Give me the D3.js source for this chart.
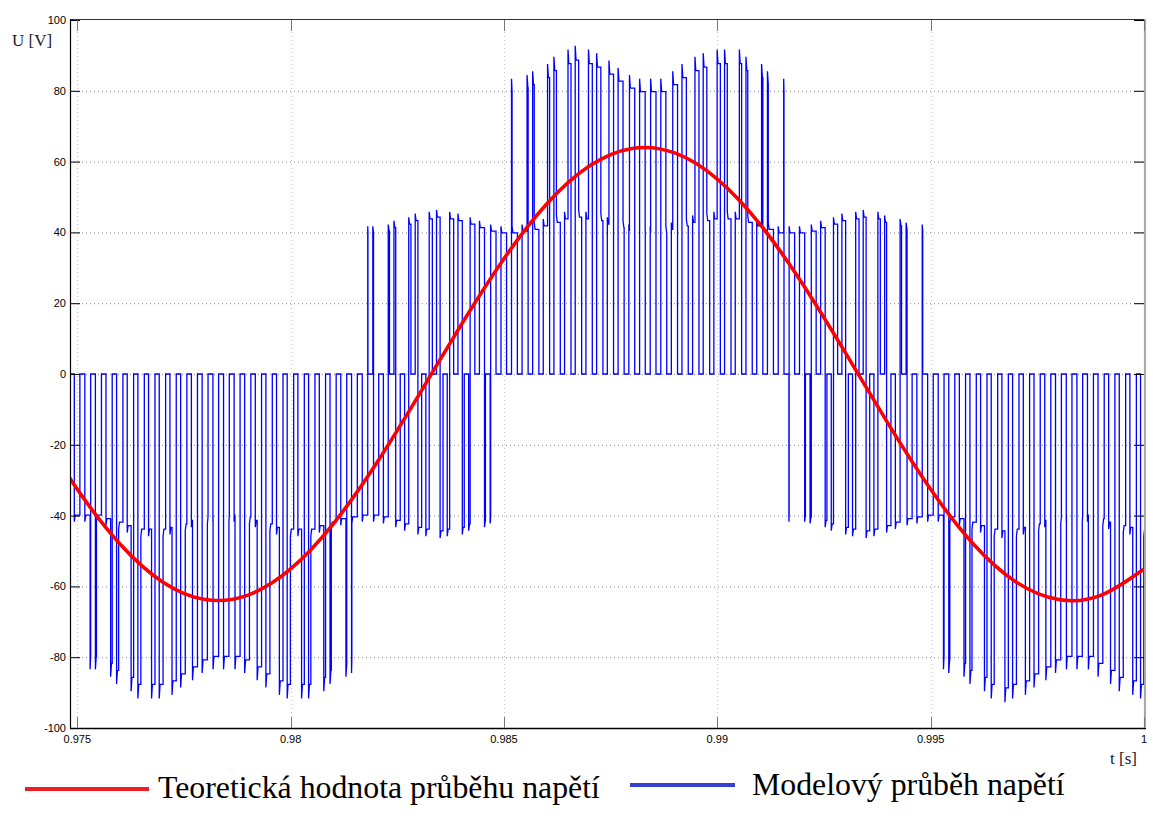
<!DOCTYPE html>
<html><head><meta charset="utf-8">
<script src="https://cdn.jsdelivr.net/npm/d3@7"></script>
<style>body{margin:0;background:#fff}svg{display:block}</style>
</head><body>
<svg id="c" width="1153" height="829"></svg>
<script>
// ---------- data ----------
const xTicks = [0.975, 0.98, 0.985, 0.99, 0.995, 1];
const xTickLabels = ["0.975", "0.98", "0.985", "0.99", "0.995", "1"];
const yTicks = [-100, -80, -60, -40, -20, 0, 20, 40, 60, 80, 100];

// theoretical voltage (red), time in ms, value in V
const theoryT = [974,975,976,977,978,979,980,981,982,983,984,985,986,987,988,989,990,991,992,993,994,995,996,997,998,999,1000];
const theoryV = [-13.96,-32.58,-48.01,-58.74,-63.72,-62.46,-55.08,-42.32,-25.42,-6.02,13.96,32.58,48.01,58.74,63.72,62.46,55.08,42.32,25.42,6.02,-13.96,-32.58,-48.01,-58.74,-63.72,-62.46,-55.08];

// model PWM voltage (blue): one excursion per carrier half period
// centre time (ms)
const pulseT = [974.995,975.245,975.495,975.745,975.995,976.245,976.495,976.745,976.995,977.245,
977.495,977.745,977.995,978.245,978.495,978.745,978.995,979.245,979.495,979.745,
979.995,980.245,980.495,980.745,980.995,981.245,981.495,981.745,981.995,982.245,
982.495,982.745,982.995,983.245,983.495,983.745,983.995,984.245,984.495,984.745,
984.995,985.245,985.495,985.745,985.995,986.245,986.495,986.745,986.995,987.245,
987.495,987.745,987.995,988.245,988.495,988.745,988.995,989.245,989.495,989.745,
989.995,990.245,990.495,990.745,990.995,991.245,991.495,991.745,991.995,992.245,
992.495,992.745,992.995,993.245,993.495,993.745,993.995,994.245,994.495,994.745,
994.995,995.245,995.495,995.745,995.995,996.245,996.495,996.745,996.995,997.245,
997.495,997.745,997.995,998.245,998.495,998.745,998.995,999.245,999.495,999.745,
999.995];
// dwell (µs): A = level ±U/3 (low/high sectors) or -U/3 (mid sectors)
const durA = [131,124,117,109,101,91,81,71,60,49,38,26,15,3,9,21,33,44,56,67,77,87,96,105,114,121,128,
129,122,114,106,97,88,78,68,57,46,34,22,11,
131,124,117,109,101,91,81,71,60,49,38,26,15,3,9,21,33,44,56,67,77,87,96,105,114,121,128,
5,17,29,41,52,63,74,84,93,102,111,119,126,
131,124,117,109,101,91,81,71,60,49,38,26,15,3,9,21,33,44,56,67,77];
// dwell (µs): B = level ±2U/3 (low/high sectors) or +U/3 (mid sectors)
const durB = [0,13,25,37,48,59,70,80,90,99,108,116,123,130,126,119,112,103,94,85,75,64,53,42,30,19,7,
5,17,29,41,52,63,74,84,93,102,111,119,126,
0,13,25,37,48,59,70,80,90,99,108,116,123,130,126,119,112,103,94,85,75,64,53,42,30,19,7,
129,122,114,106,97,88,78,68,57,46,34,22,11,
0,13,25,37,48,59,70,80,90,99,108,116,123,130,126,119,112,103,94,85,75];
// peak magnitude 2U/3 (V)
const pulsePeak = [81,81,81,83,85,87,89,89,89,88,86,84,82,81,81,81,82,84,86,88,
89,89,89,87,85,83,82,81,81,82,84,86,88,89,90,89,88,86,84,82,
81,81,82,83,85,87,89,90,89,88,86,84,82,81,81,81,83,85,87,88,
89,89,89,87,85,83,81,81,81,82,84,86,88,89,90,89,87,85,83,82,
81,81,82,83,85,87,89,90,89,88,86,84,82,81,81,81,83,85,87,88,89];
const sectorStart = [974.0, 981.63, 984.97, 991.63, 994.97];
const sectorKind = ["low", "mid", "high", "mid", "low"];

const legendLabels = ["Teoretická hodnota průběhu napětí", "Modelový průběh napětí"];

// ---------- layout ----------
const L = 70, R = 1144, T = 20, B = 728;
const svg = d3.select("#c");
const x = d3.scaleLinear().domain([0.975, 1]).range([77.3, 1144]);
const y = d3.scaleLinear().domain([-100, 100]).range([B, T]);
const xm = ms => x(ms / 1000);

// grid
svg.append("g").selectAll("line").data(yTicks.filter(v => v > -100 && v < 100)).join("line")
  .attr("x1", L).attr("x2", R).attr("y1", d => y(d) + 0.5).attr("y2", d => y(d) + 0.5)
  .attr("stroke", "#8a8a8a").attr("stroke-width", 1).attr("stroke-dasharray", "1,3");
svg.append("g").selectAll("line").data(xTicks.filter(v => v < 1)).join("line")
  .attr("x1", d => Math.round(x(d)) + 0.5).attr("x2", d => Math.round(x(d)) + 0.5)
  .attr("y1", T).attr("y2", B)
  .attr("stroke", "#c8c8c8").attr("stroke-width", 1).attr("stroke-dasharray", "1,3");

// clip
svg.append("clipPath").attr("id", "pc").append("rect")
  .attr("x", L).attr("y", T).attr("width", R - L).attr("height", B - T);

// blue PWM waveform
function sectorOf(tm) { let s = 0; sectorStart.forEach((v, i) => { if (tm >= v) s = i; }); return sectorKind[s]; }
const pts = [[974.6, 0]];
pulseT.forEach((c, k) => {
  const kind = sectorOf(c), p = pulsePeak[k], a = durA[k] / 1000, b = durB[k] / 1000;
  const rising = k % 2 === 1;
  let segs;
  if (kind === "low") segs = rising ? [[-p / 2, a], [-p, b]] : [[-p, b], [-p / 2, a]];
  else if (kind === "high") segs = rising ? [[p, b], [p / 2, a]] : [[p / 2, a], [p, b]];
  else segs = rising ? [[-p / 2, a], [p / 2, b]] : [[p / 2, b], [-p / 2, a]];
  let t = c - (a + b) / 2;
  pts.push([t, 0]);
  segs.forEach(([lv, d]) => {
    if (d <= 0) return;
    const dd = Math.min(d, 0.02);
    pts.push([t, lv * 1.03]);
    pts.push([t + dd, lv * 0.985]);
    pts.push([t + d, lv * 0.985]);
    t += d;
  });
  pts.push([t, 0]);
});
pts.push([1000.5, 0]);
svg.append("path").attr("clip-path", "url(#pc)")
  .attr("d", d3.line().x(d => xm(d[0])).y(d => y(d[1]))(pts))
  .attr("fill", "none").attr("stroke", "#0000ff").attr("stroke-width", 1.3);

// red theoretical
svg.append("path").attr("clip-path", "url(#pc)")
  .attr("d", d3.line().curve(d3.curveNatural).x((d, i) => xm(theoryT[i])).y(d => y(d))(theoryV))
  .attr("fill", "none").attr("stroke", "#ff0000").attr("stroke-width", 3.6);

// frame
svg.append("line").attr("x1", L).attr("x2", R + 1).attr("y1", T - 0.5).attr("y2", T - 0.5).attr("stroke", "#333").attr("stroke-width", 1.2);
svg.append("line").attr("x1", L + 0.5).attr("x2", L + 0.5).attr("y1", T - 1).attr("y2", B + 1).attr("stroke", "#000").attr("stroke-width", 1.2);
svg.append("line").attr("x1", L).attr("x2", R + 2).attr("y1", B + 0.5).attr("y2", B + 0.5).attr("stroke", "#000").attr("stroke-width", 1.4);
svg.append("line").attr("x1", R + 1).attr("x2", R + 1).attr("y1", T - 1).attr("y2", B).attr("stroke", "#aaa").attr("stroke-width", 2.2);

// y ticks both sides
const yt = svg.append("g");
yTicks.forEach(v => {
  yt.append("line").attr("x1", L).attr("x2", L + 10).attr("y1", y(v) + 0.5).attr("y2", y(v) + 0.5).attr("stroke", "#000");
  yt.append("line").attr("x1", R - 10).attr("x2", R).attr("y1", y(v) + 0.5).attr("y2", y(v) + 0.5).attr("stroke", "#000");
});
// x ticks
xTicks.forEach(v => {
  const xx = Math.round(x(v)) + 0.5;
  yt.append("line").attr("x1", xx).attr("x2", xx).attr("y1", B).attr("y2", B - 11).attr("stroke", "#777");
  yt.append("line").attr("x1", xx).attr("x2", xx).attr("y1", T).attr("y2", T + 11).attr("stroke", "#777");
});

// tick labels
const lab = svg.append("g").attr("font-family", "Liberation Sans, Arial, sans-serif").attr("font-size", 11).attr("fill", "#000");
lab.selectAll("text.y").data(yTicks).join("text").attr("class", "y")
  .attr("x", 66).attr("y", d => y(d) + 4).attr("text-anchor", "end").text(d => d);
lab.selectAll("text.x").data(xTicks).join("text").attr("class", "x")
  .attr("x", d => x(d)).attr("y", 743).attr("text-anchor", "middle").text((d, i) => xTickLabels[i]);

// axis titles
svg.append("text").attr("x", 12).attr("y", 46).attr("font-family", "Liberation Serif, Times New Roman, serif")
  .attr("font-size", 17).attr("fill", "#1a1a2a").text("U [V]");
svg.append("text").attr("x", 1110).attr("y", 764).attr("font-family", "Liberation Serif, Times New Roman, serif")
  .attr("font-size", 17).attr("fill", "#1a1a2a").text("t [s]");

// legend
const lg = svg.append("g").attr("font-family", "Liberation Serif, Times New Roman, serif").attr("font-size", 31.8).attr("fill", "#000");
lg.append("line").attr("x1", 25).attr("x2", 149).attr("y1", 789).attr("y2", 789).attr("stroke", "#ee1c24").attr("stroke-width", 4);
lg.append("text").attr("x", 158).attr("y", 798).text(legendLabels[0]);
lg.append("line").attr("x1", 630).attr("x2", 735).attr("y1", 785).attr("y2", 785).attr("stroke", "#3344cc").attr("stroke-width", 4);
lg.append("text").attr("x", 752).attr("y", 795).text(legendLabels[1]);
</script>
</body></html>
